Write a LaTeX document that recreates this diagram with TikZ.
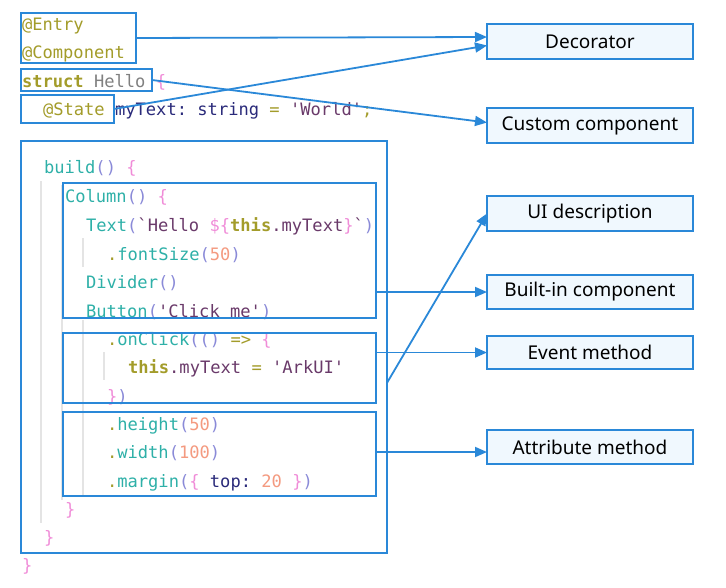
\documentclass[tikz,border=0pt]{standalone}
\usepackage{fontspec}
\setmainfont{Noto Sans}
\setmonofont{DejaVu Sans Mono}
\usetikzlibrary{arrows.meta,calc}
\definecolor{boxblue}{HTML}{2A88D8}
\definecolor{boxfill}{HTML}{F0F8FE}
\definecolor{colOlive}{HTML}{A39C2A}
\definecolor{colTeal}{HTML}{2EB0A8}
\definecolor{colLav}{HTML}{8A8AD8}
\definecolor{colPink}{HTML}{F08CD8}
\definecolor{colStr}{HTML}{6A3A6A}
\definecolor{colNavy}{HTML}{2A2A7A}
\definecolor{colNum}{HTML}{F49A80}
\definecolor{colGray}{HTML}{808080}
\definecolor{guidegray}{HTML}{E4E4E4}
\newcommand\kO[1]{\textcolor{colOlive}{#1}}
\newcommand\kT[1]{\textcolor{colTeal}{#1}}
\newcommand\kL[1]{\textcolor{colLav}{#1}}
\newcommand\kP[1]{\textcolor{colPink}{#1}}
\newcommand\kS[1]{\textcolor{colStr}{#1}}
\newcommand\kN[1]{\textcolor{colNavy}{#1}}
\newcommand\kR[1]{\textcolor{colNum}{#1}}
\newcommand\kG[1]{\textcolor{colGray}{#1}}
\newcommand\myq{\char39\relax}
\newcommand\mybq{\char96\relax}
\begin{document}
\begin{tikzpicture}[x=1pt,y=-1pt,
  codeline/.style={anchor=base west, inner sep=0pt, outer sep=0pt, font=\ttfamily\fontsize{17.1}{20}\selectfont},
  cbox/.style={draw=boxblue, line width=1.8pt, inner sep=0pt, outer sep=0pt, anchor=north west},
  lbl/.style={draw=boxblue, fill=boxfill, line width=1.8pt, minimum width=206pt, inner sep=0pt, outer sep=0pt, anchor=north west, font=\fontsize{19}{22}\selectfont},
  conn/.style={draw=boxblue, line width=1.8pt, -{Triangle[length=12pt,width=10pt]}},
  guide/.style={draw=guidegray, line width=1.5pt}]
\useasboundingbox (0,0) rectangle (726,587);
\fill[white] (0,0) rectangle (726,587);
% indent guides
\draw[guide] (41,181) -- (41,523);
\draw[guide] (62,185) -- (62,500);
\draw[guide] (83,238) -- (83,267);
\draw[guide] (83,320) -- (83,495);
\draw[guide] (104,352) -- (104,380);
% code
\node[codeline] (l1) at (22,30) {\kO{@Entry}};
\node[codeline] (l2) at (22,58.5) {\kO{@Component}};
\node[codeline] (l3) at (22,87) {\textbf{\kO{struct}} \kG{Hello} \kP{\{}};
\node[codeline] (l4) at (43,115.5) {\kO{@State} \kN{myText:} \kN{string} \kO{=} \kS{\myq World\myq}\kO{;}};
\node[codeline] (l5) at (44,173) {\kT{build}\kL{()} \kP{\{}};
\node[codeline] (l6) at (65,202) {\kT{Column}\kL{()} \kP{\{}};
\node[codeline] (l7) at (86,231) {\kT{Text}\kL{(}\kS{\mybq Hello }\kP{\$\{}\textbf{\kO{this}}\kS{.myText}\kP{\}}\kS{\mybq}\kL{)}};
\node[codeline] (l8) at (107,260) {\kO{.}\kT{fontSize}\kL{(}\kR{50}\kL{)}};
\node[codeline] (l9) at (86,288) {\kT{Divider}\kL{()}};
\node[codeline] (l10) at (86,317) {\kT{Button}\kL{(}\kS{\myq Click me\myq}\kL{)}};
\node[codeline] (l11) at (107,345) {\kO{.}\kT{onClick}\kL{(()} \kO{=>} \kP{\{}};
\node[codeline] (l12) at (128,373) {\textbf{\kO{this}}\kS{.myText} \kO{=} \kS{\myq ArkUI\myq}};
\node[codeline] (l13) at (107,402) {\kP{\}}\kL{)}};
\node[codeline] (l14) at (107,430) {\kO{.}\kT{height}\kL{(}\kR{50}\kL{)}};
\node[codeline] (l15) at (107,458) {\kO{.}\kT{width}\kL{(}\kR{100}\kL{)}};
\node[codeline] (l16) at (107,487) {\kO{.}\kT{margin}\kL{(}\kP{\{} \kN{top:} \kR{20} \kP{\}}\kL{)}};
\node[codeline] (l17) at (65,515) {\kP{\}}};
\node[codeline] (l18) at (44,543) {\kP{\}}};
\node[codeline] (l19) at (22,571) {\kP{\}}};
% code boxes
\node[cbox, minimum width=115pt, minimum height=50pt] (bEntry) at (21,13) {};
\node[cbox, minimum width=131pt, minimum height=22pt] (bStruct) at (21,69) {};
\node[cbox, minimum width=93pt, minimum height=28pt] (bState) at (21,95) {};
\node[cbox, minimum width=366pt, minimum height=412pt] (bBuild) at (21,141) {};
\node[cbox, minimum width=313pt, minimum height=135pt] (bCol) at (63,183) {};
\node[cbox, minimum width=313pt, minimum height=70pt] (bClick) at (63,333) {};
\node[cbox, minimum width=313pt, minimum height=84pt] (bAttr) at (63,412) {};
% label boxes
\node[lbl, minimum height=35pt] (dec) at (487,24) {Decorator};
\node[lbl, minimum height=35pt] (cc) at (487,108) {Custom component};
\node[lbl, minimum height=35pt] (ui) at (487,196) {UI description};
\node[lbl, minimum height=34pt] (bi) at (487,275) {Built-in component};
\node[lbl, minimum height=33pt] (ev) at (487,336) {Event method};
\node[lbl, minimum height=34pt] (am) at (487,430) {Attribute method};
% connectors
\coordinate (decA) at ([yshift=4.5pt]dec.west);
\coordinate (decB) at ([yshift=-4pt]dec.west);
\coordinate (ccIn) at ([yshift=3pt]cc.west);
\coordinate (amIn) at ([yshift=-5pt]am.west);
\coordinate (bSrc) at ($(bBuild.north east)!0.587!(bBuild.south east)$);
\draw[conn] (bEntry.east) -- (decA);
\draw[conn] (bState.east) -- (decB);
\draw[conn] (bStruct.east) -- (ccIn);
\draw[conn] (bSrc) -- (ui.west);
\draw[conn] (bCol.east |- bi.west) -- (bi.west);
\draw[conn] (bClick.east |- ev.west) -- (ev.west);
\draw[conn] (bAttr.east |- amIn) -- (amIn);
\end{tikzpicture}
\end{document}
